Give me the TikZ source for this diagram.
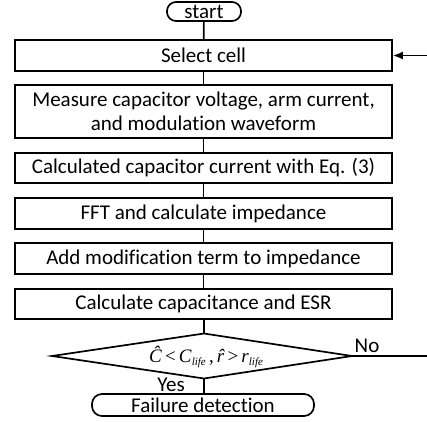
\documentclass[tikz,border=0pt]{standalone}
\usepackage{fontspec}
\setmainfont{Carlito}[Ligatures=NoCommon]
\newfontfamily\tms{Liberation Serif}
\usetikzlibrary{arrows.meta}
\newcommand{\sub}[1]{\raisebox{-0.35ex}{\fontsize{11}{12}\selectfont #1}}
\newcommand{\rhatsym}{\ooalign{\textit{r}\cr\hidewidth\kern1.5pt\textit{ˆ}\hidewidth\cr}}
\begin{document}
\begin{tikzpicture}[x=1pt,y=-1pt,
  every node/.style={font=\fontsize{21}{24}\selectfont},
  procbox/.style={draw,line width=1.7pt,minimum width=377pt,inner sep=0pt,align=center},
  term/.style={draw,line width=1.7pt,rounded corners=9pt,inner sep=0pt},
  conn/.style={line width=1.7pt}]
\useasboundingbox (0,0) rectangle (427,421);
\node[term,minimum width=74pt,minimum height=19pt] (start) at (204,11.5) {start};
\node[procbox,minimum height=31pt] (sel) at (203.5,55.5) {Select cell};
\node[procbox,minimum height=53pt] (meas) at (203.5,111.5) {Measure capacitor voltage, arm current,\\and modulation waveform};
\node[procbox,minimum height=30pt] (calc) at (203.5,168) {Calculated capacitor current with Eq. (3)};
\node[procbox,minimum height=31pt] (fft) at (203.5,213.5) {FFT and calculate impedance};
\node[procbox,minimum height=31pt] (add) at (203.5,258.5) {Add modification term to impedance};
\node[procbox,minimum height=30pt] (cap) at (203.5,304) {Calculate capacitance and ESR};
\coordinate (dtop) at (204,333.5);
\coordinate (dright) at (352,356);
\coordinate (dbot) at (204,378.5);
\coordinate (dleft) at (52,356);
\draw[line width=1.7pt,line join=miter] (dtop) -- (dright) -- (dbot) -- (dleft) -- cycle;
\node[font=\fontsize{19}{21}\tms,inner sep=0pt] (dec) at (206,357) {\textit{Ĉ}\,<\,\textit{C}\textit{\sub{life}}\,,\,\rhatsym\,>\,\textit{r}\textit{\sub{life}}};
\node[term,minimum width=222pt,minimum height=22pt,rounded corners=10pt] (fail) at (203,405) {Failure detection};
\coordinate (noend) at (427,356);
\coordinate (loopin) at (427,55.5);
\node (no) at (367,346) {No};
\node (yes) at (171,385) {Yes};
\draw[conn] (start) -- (sel);
\draw[conn] (sel) -- (meas);
\draw[conn] (meas) -- (calc);
\draw[conn] (calc) -- (fft);
\draw[conn] (fft) -- (add);
\draw[conn] (add) -- (cap);
\draw[conn] (cap.south -| dtop) -- (dtop);
\draw[conn] (dbot) -- (fail.north -| dbot);
\draw[conn] (dright) -- (noend);
\draw[conn,-{Latex[length=10pt,width=8pt]}] (loopin) -- (sel.east);
\end{tikzpicture}
\end{document}
